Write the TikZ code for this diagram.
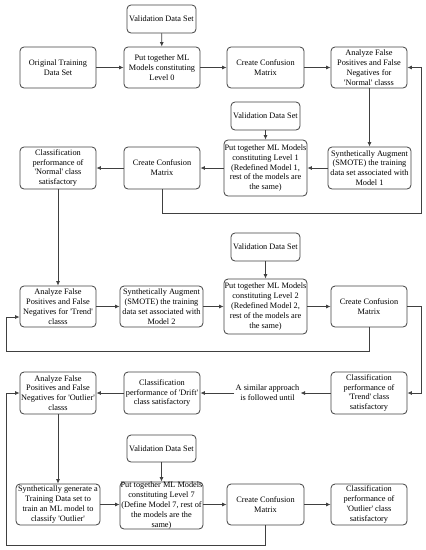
\documentclass[tikz,border=0pt]{standalone}
\usepackage{fontspec}
\setmainfont{Liberation Serif}
\usetikzlibrary{arrows.meta}
\newcommand{\myq}[1]{\textquotesingle#1\textquotesingle}
\begin{document}
\begin{tikzpicture}[x=1pt,y=-1pt,
  box/.style={draw=black!75, line width=0.8pt, rounded corners=4pt, align=center, inner sep=0pt,
    font=\fontsize{8.3}{9.8}\selectfont},
  plain/.style={align=center, inner sep=1pt, font=\fontsize{8.3}{9.8}\selectfont},
  arr/.style={draw=black!75, line width=0.8pt, -{Latex[length=4.5pt,width=4pt]}}]
\useasboundingbox (0,0) rectangle (426,550);
% row 1
\node[box, minimum width=69pt, minimum height=28pt] (vds1) at (161.5,19) {Validation Data Set};
\node[box, minimum width=76pt, minimum height=41pt] (orig) at (58,67.5) {Original Training\\Data Set};
\node[box, minimum width=76pt, minimum height=41pt] (l0) at (162,67.5) {Put together ML\\Models constituting\\Level 0};
\node[box, minimum width=77pt, minimum height=41pt] (ccm0) at (265.5,67.5) {Create Confusion\\Matrix};
\node[box, minimum width=76pt, minimum height=41pt] (an) at (369,67.5) {Analyze False\\Positives and False\\Negatives for\\\myq{Normal} classs};
% row 2
\node[box, minimum width=69pt, minimum height=28pt] (vds2) at (265.5,116) {Validation Data Set};
\node[box, minimum width=83pt, minimum height=56pt] (l1) at (265.5,168) {Put together ML Models\\constituting Level 1\\(Redefined Model 1,\\rest of the models are\\the same)};
\node[box, minimum width=83pt, minimum height=42pt] (sa1) at (369.5,168) {Synthetically Augment\\(SMOTE) the training\\data set associated with\\Model 1};
\node[box, minimum width=76pt, minimum height=42pt] (ccm1) at (162,168) {Create Confusion\\Matrix};
\node[box, minimum width=76pt, minimum height=42pt] (cn) at (58,168) {Classification\\performance of\\\myq{Normal} class\\satisfactory};
% row 3
\node[box, minimum width=69pt, minimum height=28pt] (vds3) at (265.5,247) {Validation Data Set};
\node[box, minimum width=83pt, minimum height=55pt] (l2) at (265.5,306.5) {Put together ML Models\\constituting Level 2\\(Redefined Model 2,\\rest of the models are\\the same)};
\node[box, minimum width=76pt, minimum height=41pt] (ccm2) at (369,306.5) {Create Confusion\\Matrix};
\node[box, minimum width=76pt, minimum height=41pt] (at) at (58,306.5) {Analyze False\\Positives and False\\Negatives for \myq{Trend}\\classs};
\node[box, minimum width=83pt, minimum height=41pt] (sa2) at (161.5,306.5) {Synthetically Augment\\(SMOTE) the training\\data set associated with\\Model 2};
% row 4
\node[box, minimum width=76pt, minimum height=42pt] (ct) at (369,393) {Classification\\performance of\\\myq{Trend} class\\satisfactory};
\node[plain] (txt) at (267.5,393) {A similar approach\\is followed until};
\node[box, minimum width=76pt, minimum height=42pt] (cd) at (162,393) {Classification\\performance of \myq{Drift}\\class satisfactory};
\node[box, minimum width=76pt, minimum height=42pt] (ao) at (58,393) {Analyze False\\Positives and False\\Negatives for \myq{Outlier}\\classs};
% row 5
\node[box, minimum width=69pt, minimum height=27pt] (vds4) at (161.5,448.5) {Validation Data Set};
\node[box, minimum width=83pt, minimum height=47pt] (l7) at (161.5,505.5) {Put together ML Models\\constituting Level 7\\(Define Model 7, rest of\\the models are the\\same)};
\node[box, minimum width=84pt, minimum height=41pt] (sg) at (58,504.5) {Synthetically generate a\\Training Data set to\\train an ML model to\\classify \myq{Outlier}};
\node[box, minimum width=77pt, minimum height=41pt] (ccm7) at (265.5,504.5) {Create Confusion\\Matrix};
\node[box, minimum width=76pt, minimum height=41pt] (co) at (369,504.5) {Classification\\performance of\\\myq{Outlier} class\\satisfactory};
% loop corners
\coordinate (r1) at (421,213);
\coordinate (r2) at (6,351);
\coordinate (r3) at (421,306.5);
\coordinate (r4) at (6,545);
% connectors
\draw[arr] (vds1) -- (l0);
\draw[arr] (orig) -- (l0);
\draw[arr] (l0) -- (ccm0);
\draw[arr] (ccm0) -- (an);
\draw[arr] (an.south -| sa1.north) -- (sa1.north);
\draw[arr] (vds2) -- (l1);
\draw[arr] (sa1) -- (l1);
\draw[arr] (l1) -- (ccm1);
\draw[arr] (ccm1) -- (cn);
\draw[arr] (ccm1.south) |- (r1) |- (an.east);
\draw[arr] (cn) -- (at);
\draw[arr] (at) -- (sa2);
\draw[arr] (sa2) -- (l2);
\draw[arr] (vds3) -- (l2);
\draw[arr] (l2) -- (ccm2);
\draw[arr] (ccm2.south) |- (r2) |- ([yshift=-10.5pt]at.west);
\draw[arr] (ccm2.east) -- (r3) |- (ct.east);
\draw[arr] (ct) -- (txt);
\draw[arr] (txt) -- (cd);
\draw[arr] (cd) -- (ao);
\draw[arr] (ao) -- (sg);
\draw[arr] (sg) -- (l7.west |- sg.east);
\draw[arr] (vds4) -- (l7);
\draw[arr] (l7.east |- ccm7.west) -- (ccm7);
\draw[arr] (ccm7) -- (co);
\draw[arr] (ccm7.south) |- (r4) |- (ao.west);
\end{tikzpicture}
\end{document}
